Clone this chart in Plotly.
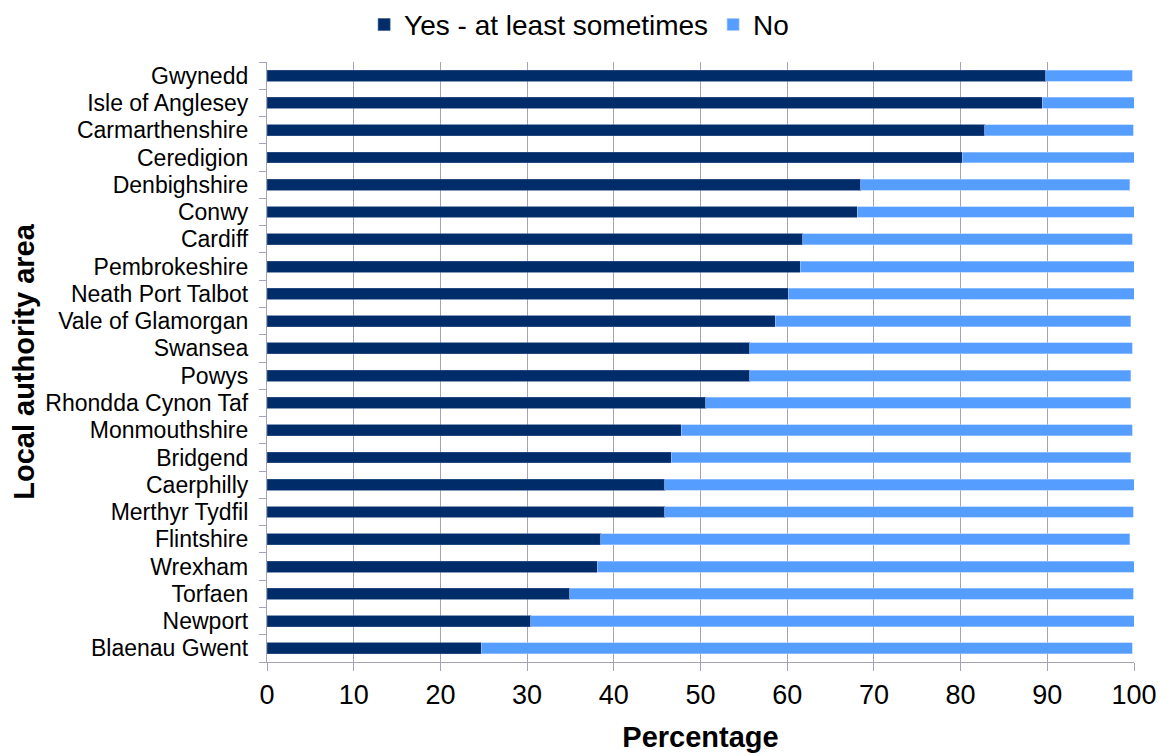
import plotly.graph_objects as go

areas = ['Gwynedd', 'Isle of Anglesey', 'Carmarthenshire', 'Ceredigion', 'Denbighshire',
         'Conwy', 'Cardiff', 'Pembrokeshire', 'Neath Port Talbot', 'Vale of Glamorgan',
         'Swansea', 'Powys', 'Rhondda Cynon Taf', 'Monmouthshire', 'Bridgend',
         'Caerphilly', 'Merthyr Tydfil', 'Flintshire', 'Wrexham', 'Torfaen',
         'Newport', 'Blaenau Gwent']
yes_sometimes = [89.8, 89.4, 82.8, 80.2, 68.5, 68.1, 61.8, 61.5, 60.1, 58.6, 55.7,
                 55.7, 50.6, 47.8, 46.6, 45.9, 45.9, 38.5, 38.1, 34.9, 30.4, 24.7]
no = [10.0, 10.6, 17.1, 19.8, 31.0, 31.9, 38.0, 38.5, 39.9, 41.0, 44.1,
      43.9, 49.0, 52.0, 53.0, 54.1, 54.0, 61.0, 61.9, 65.0, 69.6, 75.1]
x_ticks = [0, 10, 20, 30, 40, 50, 60, 70, 80, 90, 100]

font = 'Liberation Sans, Arial, sans-serif'
grid = '#A3A3B5'

fig = go.Figure()
fig.add_trace(go.Bar(y=areas, x=yes_sometimes, orientation='h', name='Yes - at least sometimes',
                     marker=dict(color='#002D6A', line=dict(color='#3A5A8C', width=0.6))))
fig.add_trace(go.Bar(y=areas, x=no, orientation='h', name='No',
                     marker=dict(color='#559DFF', line=dict(color='#A9CCFF', width=0.6))))

# page body has an 8px margin, so the margins are shifted by that
fig.update_layout(
    barmode='stack',
    bargap=0.6,
    width=1171, height=756,
    margin=dict(l=259, r=45, t=54, b=102, autoexpand=False),
    paper_bgcolor='white', plot_bgcolor='white',
    font=dict(family=font, color='black'),
    showlegend=True,
    legend=dict(orientation='h', x=0.36, xanchor='center', y=1.062, yanchor='middle',
                font=dict(size=28, family=font), itemwidth=30, traceorder='normal'),
)
fig.update_xaxes(
    range=[0, 100], tickvals=x_ticks, ticks='outside', ticklen=8, tickcolor=grid,
    showgrid=True, gridcolor=grid, gridwidth=1.3,
    showline=True, linecolor=grid, linewidth=1.3,
    tickfont=dict(size=27, family=font), zeroline=False, automargin=False,
    title=dict(text='<b>Percentage</b>', font=dict(size=29, family=font), standoff=18),
)
fig.update_yaxes(
    categoryorder='array', categoryarray=areas, autorange='reversed',
    tickmode='array', tickvals=areas, ticktext=areas,
    ticks='outside', ticklen=7, tickcolor=grid, tickson='boundaries',
    showline=True, linecolor=grid, linewidth=1.3, showgrid=False,
    tickfont=dict(size=23, family=font), ticklabelstandoff=13, automargin=False,
    title=dict(text='<b>Local authority area</b>', font=dict(size=29, family=font), standoff=2),
)

fig.write_html('out.html')
